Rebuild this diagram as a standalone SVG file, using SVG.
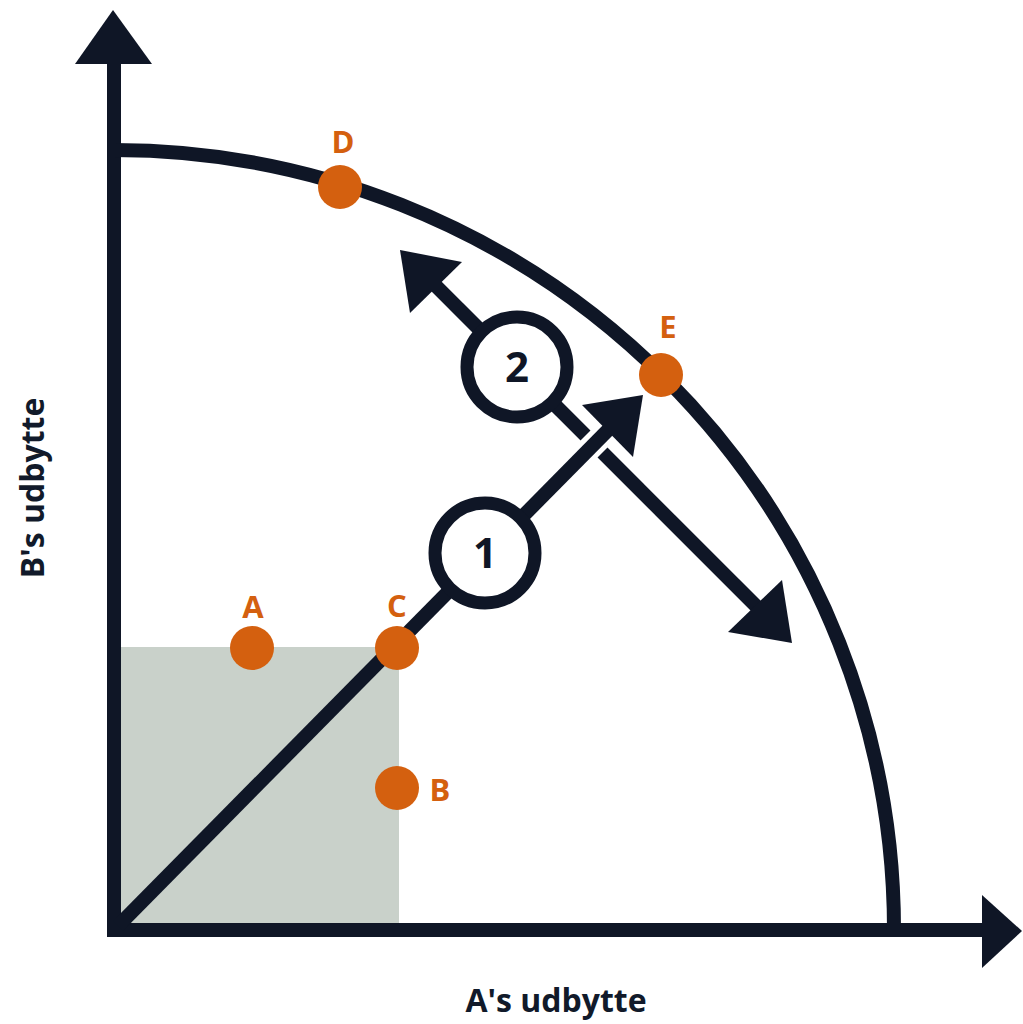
<svg xmlns="http://www.w3.org/2000/svg" width="1023" height="1024" viewBox="0 0 1023 1024">
<style>
.ln{stroke:#0f1626;stroke-width:14;fill:none}
.hd{fill:#0f1626}
.pt{fill:#d4600f}
.pl{fill:#d4600f;font-family:"Open Sans","Liberation Sans",sans-serif;font-weight:700;font-size:31px;text-anchor:middle}
.ax{fill:#111a2a;font-family:"Open Sans","Liberation Sans",sans-serif;font-weight:700;font-size:32px;text-anchor:middle}
.nc{fill:#fff;stroke:#0f1626;stroke-width:13}
.nt{fill:#0f1626;font-family:"Open Sans","Liberation Sans",sans-serif;font-weight:700;font-size:42px;text-anchor:middle}
</style>
<rect width="1023" height="1024" fill="#fff"/>
<rect id="region" x="114" y="647" width="285" height="283" fill="#c9d1ca"/>
<g id="axes">
<line class="ln" x1="114" y1="55" x2="114" y2="937"/>
<polygon class="hd" points="113,10 75,64 152,64"/>
<line class="ln" x1="107" y1="930" x2="990" y2="930"/>
<polygon class="hd" points="1022,931 982,895 982,968"/>
<path class="ln" d="M114,150 A780,780 0 0 1 894,930"/>
</g>
<g id="connectors">
<line class="ln" x1="425" y1="275" x2="765" y2="615" stroke-width="13"/>
<polygon class="hd" points="400,250 462,262 410,313"/>
<polygon class="hd" points="792,643 782,580 728,632"/>
<line x1="565" y1="473" x2="612" y2="426" stroke="#fff" stroke-width="24"/>
<polygon points="643,395 582,405 633,457" fill="#fff" stroke="#fff" stroke-width="8" stroke-linejoin="round"/>
<line class="ln" x1="118" y1="926" x2="612" y2="426" stroke-width="13"/>
<polygon class="hd" points="643,395 582,405 633,457"/>
</g>
<g id="node1"><circle class="nc" cx="485" cy="553" r="50"/><text class="nt" x="485" y="568">1</text></g>
<g id="node2"><circle class="nc" cx="517" cy="367" r="50"/><text class="nt" x="517" y="382">2</text></g>
<g id="pointA"><circle class="pt" cx="252" cy="648" r="22"/><text class="pl" x="253" y="618">A</text></g>
<g id="pointB"><circle class="pt" cx="397" cy="788" r="22"/><text class="pl" x="440" y="801">B</text></g>
<g id="pointC"><circle class="pt" cx="397" cy="648" r="22"/><text class="pl" x="397" y="617">C</text></g>
<g id="pointD"><circle class="pt" cx="340" cy="187" r="22"/><text class="pl" x="343" y="153">D</text></g>
<g id="pointE"><circle class="pt" cx="661" cy="375" r="22"/><text class="pl" x="668" y="338">E</text></g>
<text class="ax" x="556" y="1012">A's udbytte</text>
<text class="ax" transform="translate(44,488) rotate(-90)">B's udbytte</text>
</svg>
